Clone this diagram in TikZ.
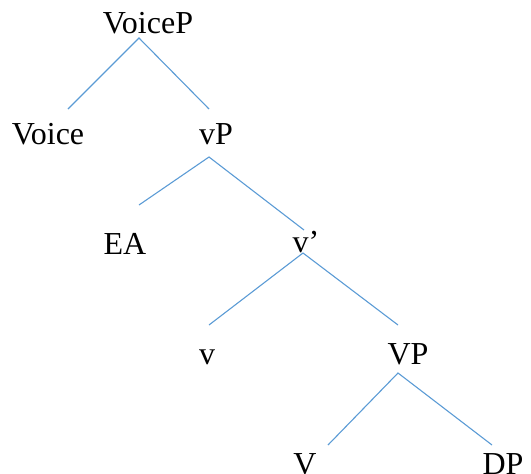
\documentclass[tikz,border=0pt]{standalone}
\usepackage{fontspec}
\setmainfont{Liberation Serif}
\begin{document}
\begin{tikzpicture}[x=1pt,y=-1pt,
    lbl/.style = {anchor=base, inner sep=0pt, font=\fontsize{32}{38}\selectfont},
    branch/.style = {draw={rgb,255:red,91;green,155;blue,213}, line width=1.1pt}]
    \useasboundingbox (0,0) rectangle (531,474);
    \node[lbl] (VoiceP) at (148,33) {VoiceP};
    \node[lbl] (Voice) at (48,144) {Voice};
    \node[lbl] (vP) at (216,144) {vP};
    \node[lbl] (EA) at (125,254) {EA};
    \node[lbl] (vbar) at (306,252) {v’};
    \node[lbl] (v) at (207,364) {v};
    \node[lbl] (VP) at (408,364) {VP};
    \node[lbl] (V) at (305,474) {V};
    \node[lbl] (DP) at (503,474) {DP};
    % branch points
    \coordinate (VoiceP-b) at (139,38);
    \coordinate (Voice-t) at (68,109);
    \coordinate (vP-t) at (209,109);
    \coordinate (vP-b) at (209,157);
    \coordinate (EA-t) at (139,205);
    \coordinate (vbar-t) at (304,230);
    \coordinate (vbar-b) at (303,253);
    \coordinate (v-t) at (209,325);
    \coordinate (VP-t) at (398,325);
    \coordinate (VP-b) at (398,373);
    \coordinate (V-t) at (328,445);
    \coordinate (DP-t) at (492,445);
    \draw[branch] (Voice-t) -- (VoiceP-b) -- (vP-t);
    \draw[branch] (EA-t) -- (vP-b) -- (vbar-t);
    \draw[branch] (v-t) -- (vbar-b) -- (VP-t);
    \draw[branch] (V-t) -- (VP-b) -- (DP-t);
\end{tikzpicture}
\end{document}
